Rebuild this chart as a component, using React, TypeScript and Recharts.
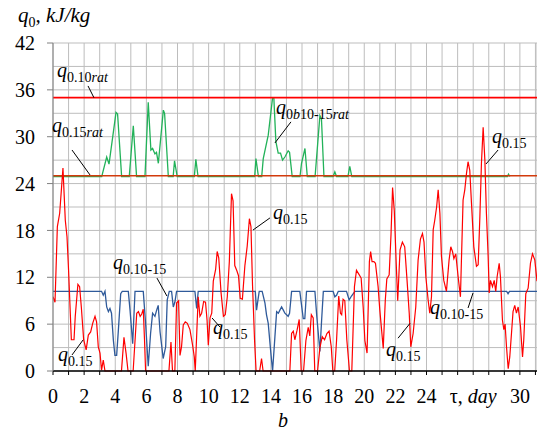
import React from 'react';
import { LineChart, Line, XAxis, YAxis, CartesianGrid, ReferenceLine } from 'recharts';

// time in days, q0 in kJ/kg
const Q015: [number, number][] = [
    [0, 9.5], [0.13, 8.8], [0.28, 18.5], [0.43, 20.2], [0.64, 26], [0.79, 19.3], [0.9, 17.2], [1.0, 12.9],
    [1.18, 4.0], [1.35, 4.0], [1.43, 7.0], [1.6, 11.1], [1.71, 10.8], [1.82, 8.2], [1.97, 4.0], [2.13, 2.7],
    [2.27, 4.6], [2.42, 5.0], [2.55, 6.1], [2.7, 7.0], [2.8, 6.3], [2.91, 3.1], [3.02, 2.3], [3.12, 0.1],
    [3.23, 1.4], [3.34, 0], [4.4, 0], [4.56, 4.3], [4.7, 2.2], [4.82, 0], [5.15, 0], [5.38, 7.4],
    [5.49, 7.6], [5.6, 7.0], [5.7, 7.3], [5.8, 7.9], [5.88, 4.0], [5.95, 0], [7.45, 0], [7.58, 3.7],
    [7.68, 0], [7.83, 0], [7.94, 8.7], [8.07, 9.0], [8.16, 2.0], [8.26, 3.1], [8.37, 5.9], [8.5, 6.3],
    [8.63, 6.1], [8.8, 5.3], [8.97, 3.3], [9.08, 1.8], [9.14, 0], [9.24, 5.0], [9.33, 9.5], [9.44, 7.0],
    [9.55, 7.4], [9.68, 8.9], [9.8, 8.8], [9.9, 6.5], [9.98, 3.3], [10.09, 6.8], [10.2, 7.4], [10.3, 11.5],
    [10.45, 13.0], [10.55, 15.3], [10.65, 14.5], [10.8, 10.0], [10.95, 7.0], [11.07, 7.2], [11.2, 9.5],
    [11.33, 14.0], [11.47, 22.7], [11.57, 21.8], [11.68, 13.5], [11.82, 12.8], [11.92, 12.2], [12.03, 9.3],
    [12.17, 9.2], [12.33, 13.5], [12.48, 16.0], [12.62, 19.5], [12.72, 18.5], [12.82, 11.0], [12.95, 4.0],
    [13.05, 0], [13.28, 0], [13.4, 1.6], [13.5, 0], [15.22, 0], [15.33, 4.8], [15.44, 5.1], [15.54, 4.0],
    [15.68, 5.2], [15.82, 6.6], [15.95, 0], [16.1, 0], [16.25, 3.9], [16.4, 5.6], [16.5, 4.5], [16.6, 7.2],
    [16.72, 6.8], [16.82, 0], [17.0, 0], [17.15, 3.0], [17.3, 4.4], [17.45, 4.0], [17.6, 4.8], [17.74, 5.1],
    [17.88, 3.1], [17.98, 0], [18.1, 0], [18.22, 3.9], [18.36, 9.6], [18.47, 7.4], [18.55, 7.2], [18.64, 9.2],
    [18.75, 9.0], [18.88, 4.0], [19.05, 0], [19.2, 0], [19.37, 10.8], [19.5, 12.9], [19.65, 12.4], [19.8, 11.9],
    [19.93, 8.2], [20.04, 3.9], [20.18, 2.3], [20.33, 14.0], [20.41, 15.3], [20.5, 14.0], [20.62, 14.0],
    [20.72, 13.8], [20.89, 10.8], [21.0, 7.8], [21.22, 2.9], [21.35, 9.0], [21.45, 11.8], [21.6, 12.3],
    [21.72, 17.5], [21.82, 23.5], [21.93, 20.5], [22.05, 14.0], [22.15, 9.0], [22.3, 15.5], [22.45, 16.5],
    [22.6, 15.9], [22.75, 11.6], [22.89, 7.4], [22.99, 3.1], [23.14, 4.8], [23.31, 8.2], [23.46, 14.2],
    [23.61, 16.9], [23.74, 17.6], [23.84, 16.5], [23.96, 12.0], [24.11, 9.0], [24.21, 7.4], [24.32, 9.5],
    [24.43, 18.1], [24.53, 19.3], [24.65, 21.0], [24.75, 23.2], [24.86, 20.2], [24.96, 14.7], [25.11, 11.6],
    [25.28, 10.2], [25.45, 14.2], [25.56, 15.9], [25.67, 15.3], [25.76, 14.4], [25.88, 15.0], [26.03, 12.1],
    [26.18, 9.5], [26.35, 21.9], [26.46, 23.2], [26.57, 25.3], [26.67, 26.8], [26.78, 25.7], [26.89, 21.5],
    [27.04, 15.9], [27.21, 13.4], [27.32, 13.6], [27.43, 19.8], [27.53, 26.6], [27.64, 31.2], [27.75, 27.0],
    [27.85, 20.2], [27.96, 14.7], [28.03, 10.0], [28.11, 11.6], [28.24, 10.8], [28.35, 11.6], [28.45, 10.2],
    [28.54, 12.1], [28.67, 13.8], [28.75, 12.1], [28.88, 6.5], [28.97, 5.3], [29.05, 6.0], [29.14, 3.1],
    [29.25, 0.3], [29.35, 1.8], [29.46, 4.8], [29.56, 7.6], [29.67, 8.4], [29.78, 7.4], [29.89, 8.2],
    [30.04, 5.7], [30.17, 1.8], [30.25, 4.0], [30.38, 9.9], [30.53, 10.6], [30.68, 13.8], [30.81, 15.0],
    [30.96, 14.2], [31.1, 11.5],
];

const Q010_15: [number, number][] = [
    [0, 10.2], [3.12, 10.2], [3.23, 9.7], [3.34, 10.2], [3.45, 8.2], [3.56, 7.6], [3.66, 8.0], [3.76, 7.4],
    [3.88, 3.9], [3.98, 2.0], [4.09, 2.0], [4.2, 5.2], [4.35, 9.9], [4.45, 10.2], [4.84, 10.2], [4.95, 7.8],
    [5.12, 3.5], [5.27, 10.2], [5.8, 10.2], [5.95, 6.1], [6.12, 0.6], [6.27, 4.8], [6.4, 7.4], [6.55, 7.0],
    [6.66, 7.8], [6.76, 8.4], [6.88, 5.0], [7.08, 1.6], [7.24, 3.1], [7.34, 9.1], [7.47, 10.2], [7.62, 10.2],
    [7.73, 8.2], [7.83, 8.8], [7.94, 10.2], [9.12, 10.2], [9.23, 8.0], [9.33, 10.2], [13.0, 10.2], [13.08, 7.8],
    [13.17, 9.1], [13.25, 10.2], [13.44, 10.2], [13.62, 8.7], [13.72, 7.2], [13.83, 6.1], [13.98, 2.7],
    [14.11, 0], [14.26, 4.4], [14.37, 7.6], [14.48, 7.4], [14.58, 7.8], [14.69, 8.2], [14.8, 7.8], [14.9, 7.4],
    [15.11, 7.0], [15.2, 7.4], [15.33, 10.2], [15.86, 10.2], [16.08, 6.7], [16.18, 6.7], [16.29, 10.2],
    [16.83, 10.2], [16.95, 7.0], [17.15, 2.5], [17.26, 6.5], [17.37, 10.2], [18.0, 10.2], [18.11, 9.5],
    [18.22, 9.7], [18.33, 10.2], [18.86, 10.2], [19.03, 9.1], [19.18, 9.6], [19.4, 10.2], [29.15, 10.2],
    [29.24, 9.9], [29.33, 10.2], [31.1, 10.2],
];

const Q0B10_15RAT: [number, number][] = [
    [0, 24.9], [3.13, 24.9], [3.45, 27.4], [3.6, 26.5], [4.05, 33.1], [4.15, 32.9], [4.41, 24.9], [4.9, 24.9],
    [5.16, 31.4], [5.37, 24.9], [5.91, 24.9], [6.12, 34.4], [6.29, 28.3], [6.4, 28.5], [6.55, 27.8],
    [6.65, 28.0], [6.77, 26.6], [7.09, 33.4], [7.17, 33.0], [7.41, 24.9], [7.72, 24.9], [7.81, 26.9],
    [7.98, 24.9], [9.08, 24.9], [9.18, 27.1], [9.32, 24.9], [12.96, 24.9], [13.04, 27.2], [13.2, 24.9],
    [13.41, 24.9], [13.51, 27.2], [13.83, 30.2], [14.11, 35], [14.19, 35], [14.32, 29.4], [14.47, 27.9],
    [14.62, 27.9], [14.75, 27.0], [14.9, 27.4], [15.11, 28.2], [15.2, 28.0], [15.37, 24.9], [15.87, 24.9],
    [15.97, 26.6], [16.19, 28.5], [16.34, 24.9], [16.84, 24.9], [17.15, 32.7], [17.25, 32.3], [17.41, 24.9],
    [18.0, 24.9], [18.11, 25.5], [18.22, 24.9], [18.95, 24.9], [19.07, 26.2], [19.2, 24.9], [29.2, 24.9],
    [29.27, 25.2], [29.35, 24.9],
];

const Q010_RAT = 35;
const Q015_RAT = 25;

const T_MAX = 31.1;
const X_TICKS = [0, 1, 2, 3, 4, 5, 6, 7, 8, 9, 10, 11, 12, 13, 14, 15, 16, 17, 18, 19, 20, 21, 22, 23, 24, 25, 26, 27, 28, 29, 30, 31];
const X_LABELS = [0, 2, 4, 6, 8, 10, 12, 14, 16, 18, 20, 22, 24, 30];
const X_UNIT_TICK = 27;
const Y_TICKS = [0, 3, 6, 9, 12, 15, 18, 21, 24, 27, 30, 33, 36, 39, 42];
const Y_LABELS = [0, 6, 12, 18, 24, 30, 36, 42];

// leader lines for the curve labels: [t1, q1, t2, q2]
const LEADERS: [number, number, number, number][] = [
    [2.25, 36.5, 2.63, 35],
    [1.22, 28.3, 2.38, 25.1],
    [15.29, 31.9, 14.26, 29.2],
    [28.6, 28.3, 27.82, 26.5],
    [13.94, 19.6, 12.85, 18.05],
    [6.68, 11.9, 7.32, 9.6],
    [1.22, 2.05, 1.93, 3.97],
    [10.73, 5.63, 10.22, 6.79],
    [26.67, 8.07, 26.99, 9.99],
    [22.17, 4.2, 22.94, 6.1],
];

// curve labels: subscript, x, y (baseline of the q)
const CURVE_LABELS: [string, number, number][] = [
    ['0.10rat', 57, 77],
    ['0.15rat', 52, 132],
    ['0b10-15rat', 276, 114],
    ['0.15', 492, 143],
    ['0.15', 273, 219],
    ['0.10-15', 113, 269],
    ['0.15', 58, 361],
    ['0.15', 213, 334],
    ['0.10-15', 430, 314],
    ['0.15', 386, 356],
];

const FONT = '"Liberation Serif", "Times New Roman", serif';
const W = 537;
const H = 434;

const rows = (pts: [number, number][]) => pts.map(([t, v]) => ({ t, v }));
const flat = (v: number) => [{ t: 0, v }, { t: T_MAX, v }];

// letters in the subscript are italic, digits upright
const Sub = ({ text }: { text: string }) => (
    <tspan fontSize={14} dy={5}>
        {text.split(/([a-z]+)/).filter(Boolean).map((part, i) => (
            <tspan key={i} fontStyle={/[a-z]/.test(part) ? 'italic' : 'normal'}>{part}</tspan>
        ))}
    </tspan>
);

const XTick = (props: any) => {
    const { x, y, payload } = props;
    const d = payload.value;
    let label = null;
    if (d === X_UNIT_TICK) {
        label = (
            <text x={x} y={y} dy="0.71em" textAnchor="middle" fontFamily={FONT} fontSize={20} fill="#000">
                <tspan>τ, </tspan>
                <tspan fontStyle="italic">day</tspan>
            </text>
        );
    } else if (X_LABELS.includes(d)) {
        label = (
            <text x={x} y={y} dy="0.71em" textAnchor="middle" fontFamily={FONT} fontSize={20} fill="#000">
                {d}
            </text>
        );
    }
    return (
        <g>
            <line x1={x} x2={x} y1={y - 18} y2={y - 14} stroke="#000" />
            {label}
        </g>
    );
};

const YTick = (props: any) => {
    const { x, y, payload } = props;
    const v = payload.value;
    if (!Y_LABELS.includes(v)) return <g />;
    return (
        <g>
            <line x1={x + 12} x2={x + 18} y1={y} y2={y} stroke="#808080" />
            <text x={x} y={y} dy="0.355em" textAnchor="end" fontFamily={FONT} fontSize={20} fill="#000">
                {v}
            </text>
        </g>
    );
};

export default function App() {
    return (
        <div style={{ position: 'absolute', left: 0, top: 0, width: W, height: H, background: '#fff' }}>
            <LineChart width={W} height={H} margin={{ top: 43, right: 0, left: 0, bottom: 0 }}>
                <CartesianGrid stroke="#bdbdbd" strokeWidth={1} />
                <XAxis
                    dataKey="t"
                    type="number"
                    domain={[0, T_MAX]}
                    ticks={X_TICKS}
                    interval={0}
                    allowDataOverflow
                    height={63}
                    tickSize={0}
                    tickMargin={18}
                    tickLine={false}
                    axisLine={{ stroke: '#000', strokeWidth: 1.5 }}
                    tick={<XTick />}
                />
                <YAxis
                    type="number"
                    domain={[0, 42]}
                    ticks={Y_TICKS}
                    interval={0}
                    width={53}
                    tickSize={0}
                    tickMargin={18}
                    tickLine={false}
                    axisLine={{ stroke: '#808080' }}
                    tick={<YTick />}
                />
                <Line data={rows(Q0B10_15RAT)} dataKey="v" stroke="#22b259" strokeWidth={1.3} dot={false} isAnimationActive={false} />
                <Line data={flat(Q010_RAT)} dataKey="v" stroke="#ff0000" strokeWidth={1.6} dot={false} isAnimationActive={false} />
                <Line data={flat(Q015_RAT)} dataKey="v" stroke="#d23a0c" strokeWidth={1.6} dot={false} isAnimationActive={false} />
                <Line data={rows(Q010_15)} dataKey="v" stroke="#2f5a9a" strokeWidth={1.3} dot={false} isAnimationActive={false} />
                <Line data={rows(Q015)} dataKey="v" stroke="#ff0000" strokeWidth={1.2} dot={false} isAnimationActive={false} />
                {LEADERS.map(([t1, q1, t2, q2], i) => (
                    <ReferenceLine
                        key={i}
                        segment={[{ x: t1, y: q1 }, { x: t2, y: q2 }]}
                        stroke="#000"
                        strokeWidth={1}
                    />
                ))}
            </LineChart>
            <svg width={W} height={H} style={{ position: 'absolute', left: 0, top: 0, pointerEvents: 'none' }}>
                <text x={18} y={22} fontFamily={FONT} fontSize={21} fontStyle="italic" fill="#000">
                    q<tspan fontSize={14} dy={5} fontStyle="normal">0</tspan>
                    <tspan dy={-5}>, kJ/kg</tspan>
                </text>
                {CURVE_LABELS.map(([sub, x, y], i) => (
                    <text key={i} x={x} y={y} fontFamily={FONT} fontSize={20} fontStyle="italic" fill="#000">
                        q<Sub text={sub} />
                    </text>
                ))}
                <text x={283} y={427} textAnchor="middle" fontFamily={FONT} fontSize={20} fontStyle="italic" fill="#000">
                    b
                </text>
            </svg>
        </div>
    );
}
